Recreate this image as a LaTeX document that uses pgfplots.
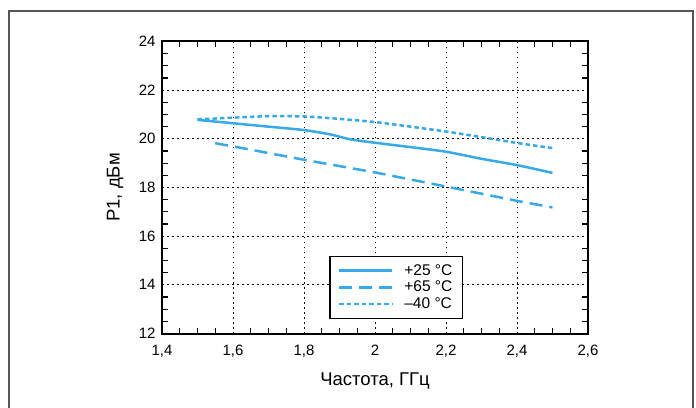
\documentclass[border=0pt]{standalone}
\usepackage{fontspec}
\setmainfont{Liberation Sans}
\usepackage{pgfplots}
\pgfplotsset{compat=1.18}
\definecolor{lineblue}{RGB}{55,168,232}
\definecolor{framegray}{RGB}{85,85,85}

\begin{document}
\begin{tikzpicture}[x=1pt,y=1pt]
\path[use as bounding box] (0,0) rectangle (696,407);
\draw[framegray, line width=1.5pt] (9,-3) -- (9,396) -- (693,396) -- (693,-3);
\begin{axis}[
    at={(162pt,73.5pt)}, anchor=south west,
    scale only axis,
    width=426pt, height=292pt,
    xmin=1.4, xmax=2.6, ymin=12, ymax=24,
    xtick={1.4,1.6,1.8,2.0,2.2,2.4,2.6},
    xticklabels={{1,4},{1,6},{1,8},2,{2,2},{2,4},{2,6}},
    ytick={12,14,16,18,20,22,24},
    yticklabels={12,14,16,18,20,22,24},
    minor tick num=3,
    xtick pos=both, ytick pos=both,
    tick align=inside,
    major tick length=0pt,
    minor tick length=6pt,
    minor tick style={black, line width=1.2pt},
    grid=major,
    major grid style={black, line width=1pt, dash pattern=on 1.5pt off 3.5pt},
    axis line style={black, line width=2pt},
    tick label style={font=\fontsize{15}{16}\selectfont},
    yticklabel style={xshift=-3pt},
    xticklabel style={yshift=-8pt},
    xlabel={Частота, ГГц},
    ylabel={P1, дБм},
    label style={font=\fontsize{18.5}{20}\selectfont},
    xlabel style={at={(axis description cs:0.5,-0.163)}, anchor=center},
    ylabel style={at={(axis description cs:-0.11,0.5)}, anchor=center},
    legend style={at={(0.7066,0.05)}, anchor=south east, draw=black, line width=1.3pt,
        font=\fontsize{15.5}{17}\selectfont, row sep=1.5pt, inner xsep=8pt, inner ysep=6.5pt,
        nodes={inner ysep=1.5pt}},
    legend cell align=left,
    legend image code/.code={\path[draw=none] (0pt,0pt) -- (63pt,0pt);
        \draw[#1, line width=2.7pt] (0pt,0pt) -- (53pt,0pt);},
]
\addplot[lineblue, line width=2.5pt, smooth, tension=0.4] coordinates {
 (1.5,20.78) (1.6,20.64) (1.7,20.5) (1.8,20.36) (1.875,20.18) (1.93,19.98)
 (2.0,19.84) (2.1,19.66) (2.2,19.47) (2.3,19.18) (2.4,18.92) (2.5,18.6)};
\addlegendentry{+25 °C}
\addplot[lineblue, line width=2.5pt, dash pattern=on 13pt off 7pt] coordinates {
 (1.55,19.82) (1.6,19.69) (1.8,19.14) (2.0,18.62) (2.2,18.04) (2.4,17.45) (2.5,17.18)};
\addlegendentry{+65 °C}
\addplot[lineblue, line width=2.5pt, dash pattern=on 4.5pt off 3pt, smooth, tension=0.4] coordinates {
 (1.5,20.8) (1.6,20.87) (1.7,20.93) (1.8,20.92) (1.9,20.82) (2.0,20.69)
 (2.1,20.5) (2.2,20.3) (2.3,20.07) (2.4,19.83) (2.5,19.62)};
\addlegendentry{–40 °C}
\end{axis}
\end{tikzpicture}
\end{document}
